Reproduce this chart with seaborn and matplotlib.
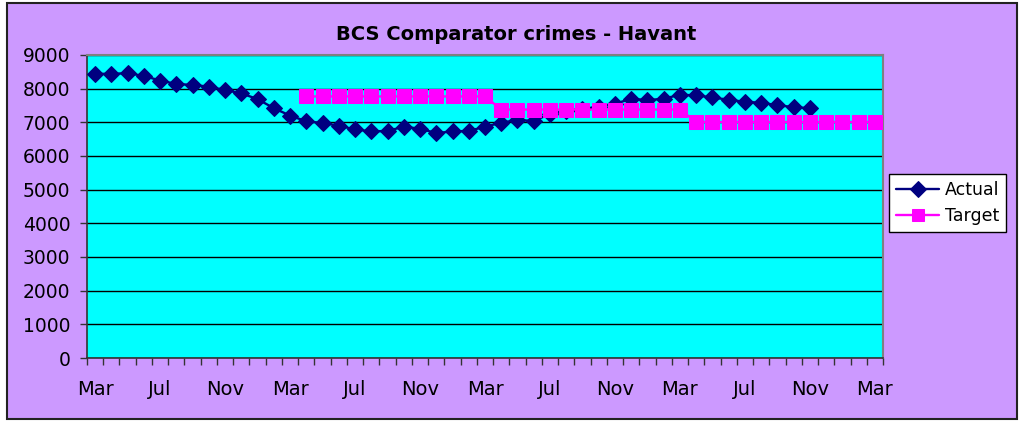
import numpy as np
import pandas as pd
import matplotlib
matplotlib.use("Agg")
import matplotlib.pyplot as plt
import seaborn as sns
from matplotlib.patches import Rectangle
from matplotlib.ticker import FixedLocator, MultipleLocator

# Monthly periods, Mar year 1 through Mar year 5
months = ["Mar", "Apr", "May", "Jun", "Jul", "Aug", "Sep", "Oct", "Nov", "Dec", "Jan", "Feb"] * 4 + ["Mar"]

actual = [8440, 8440, 8460, 8380, 8240, 8140, 8110, 8060, 7960, 7860, 7690, 7420,
          7200, 7030, 6980, 6900, 6790, 6730, 6745, 6870, 6810, 6680, 6730, 6745,
          6870, 6990, 7070, 7040, 7250, 7330, 7400, 7460, 7550, 7700, 7660, 7700,
          7820, 7800, 7740, 7670, 7610, 7580, 7510, 7450, 7420]

target_start = 13
target = [7770] * 12 + [7380] * 12 + [7010] * 12

tick_labels = ["Mar", "Jul", "Nov"] * 4 + ["Mar"]

df_actual = pd.DataFrame({"period": np.arange(len(actual)), "crimes": actual})
df_target = pd.DataFrame({"period": np.arange(target_start, target_start + len(target)),
                          "crimes": target})

sns.set_theme(style="white")
plt.rcParams["font.family"] = ["DejaVu Sans"]
plt.rcParams["text.color"] = "black"
plt.rcParams["xtick.color"] = "black"
plt.rcParams["ytick.color"] = "black"

fig = plt.figure(figsize=(10.21, 4.21), dpi=100)
fig.patch.set_facecolor("white")
fig.patches.append(Rectangle((7 / 1021, 1 - 419 / 421), 1010 / 1021, 416 / 421,
                             transform=fig.transFigure, facecolor="#CC99FF",
                             edgecolor="#222222", linewidth=1.5, zorder=-10))

ax = fig.add_axes([87 / 1021, 1 - 358 / 421, 796 / 1021, 303 / 421])
ax.set_facecolor("#00FFFF")

sns.lineplot(data=df_actual, x="period", y="crimes", ax=ax, color="#000080",
             marker="D", markersize=8.5, markeredgecolor="#000080",
             linewidth=1.7, label="Actual", zorder=3)
sns.lineplot(data=df_target, x="period", y="crimes", ax=ax, color="#FF00FF",
             marker="s", markersize=10, markeredgecolor="#FF00FF",
             linewidth=1.7, label="Target", zorder=4)

ax.set_xlim(-0.5, len(months) - 0.5)
ax.set_ylim(0, 9000)
ax.yaxis.set_major_locator(MultipleLocator(1000))
ax.grid(axis="y", color="black", linewidth=1.0)
ax.set_axisbelow(True)

ax.xaxis.set_major_locator(FixedLocator(list(range(0, len(months), 4))))
ax.set_xticklabels(tick_labels)
ax.xaxis.set_minor_locator(FixedLocator(list(np.arange(-0.5, len(months), 1.0))))
ax.tick_params(axis="x", which="major", length=0, pad=16, labelsize=14, labelcolor="black")
ax.tick_params(axis="x", which="minor", length=5, width=1, color="#333333", bottom=True)
ax.tick_params(axis="y", which="major", length=5, width=1, color="#333333",
               left=True, pad=7, labelsize=13.5, labelcolor="black")

ax.set_xlabel("")
ax.set_ylabel("")
for side in ["left", "bottom"]:
    ax.spines[side].set_color("#333333")
    ax.spines[side].set_linewidth(1.2)
for side in ["top", "right"]:
    ax.spines[side].set_color("#808080")
    ax.spines[side].set_linewidth(1.5)

fig.text(516 / 1021, 1 - 35 / 421, "BCS Comparator crimes - Havant",
         ha="center", va="center", fontsize=14, fontweight="bold", color="black")

handles, labels = ax.get_legend_handles_labels()
ax.get_legend().remove()
leg = fig.legend(handles, labels, loc="upper left",
                 bbox_to_anchor=(889 / 1021, 1 - 174 / 421),
                 frameon=True, fancybox=False, framealpha=1.0, fontsize=12.5,
                 handlelength=2.5, handletextpad=0.3, borderpad=0.4,
                 labelspacing=0.45, borderaxespad=0)
leg.get_frame().set_edgecolor("black")
leg.get_frame().set_facecolor("white")
leg.get_frame().set_linewidth(1.0)
for t in leg.get_texts():
    t.set_color("black")
for h in leg.legend_handles:
    h.set_markersize(8.5)

fig.savefig("out.png", dpi=100, facecolor=fig.get_facecolor())
